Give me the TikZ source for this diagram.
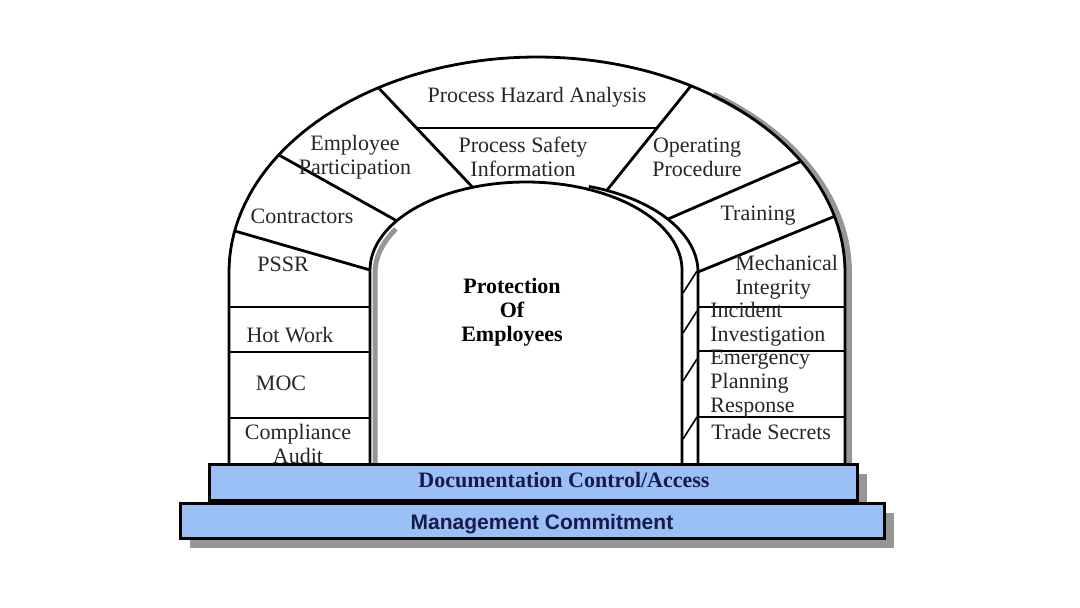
\documentclass[tikz,border=0pt]{standalone}
\usepackage{fontspec}
\setmainfont{Liberation Serif}
\newfontfamily\plainsans{Liberation Sans}
\usepackage{xcolor}

\definecolor{stepblue}{RGB}{155,192,245}
\definecolor{shadowgray}{RGB}{150,150,150}
\definecolor{navy}{RGB}{25,25,75}

\tikzset{
  brick/.style={line width=1.4pt, black, line join=round},
  lbl/.style={font=\fontsize{11}{12}\selectfont, text=black!85, inner sep=0pt, align=center},
  boldlbl/.style={font=\fontsize{11}{12}\selectfont\bfseries, text=black, inner sep=0pt, align=center},
  stepbox/.style={draw=black, line width=1.5pt, fill=stepblue, inner sep=0pt},
  stepshadow/.style={fill=shadowgray, draw=none, inner sep=0pt},
}

\begin{document}
\begin{tikzpicture}[x=0.5pt,y=-0.5pt]
    \useasboundingbox (0,0) rectangle (1080,608);

    % Grey shadows of the arch
    \draw[shadowgray, line width=3pt] plot[domain=56:0, samples=40] ({541+308*cos(\x)},{273-215*sin(\x)}) -- (849,466);
    \draw[shadowgray, line width=2.5pt] plot[domain=150:180, samples=15] ({531+156*cos(\x)},{273-88*sin(\x)}) -- (375,466);

    % Outer and inner arch
    \draw[brick] (229,465) -- plot[domain=180:0, samples=90] ({537+308*cos(\x)},{272-215*sin(\x)}) -- (845,465);
    \draw[brick] (370,465) -- plot[domain=180:0, samples=70] ({526+156*cos(\x)},{270-88*sin(\x)}) -- (682,465);
    \draw[brick] plot[domain=72:0, samples=30] ({540+158*cos(\x)},{272-90*sin(\x)}) -- (698,465);

    % Dividers of the arch
    \foreach \t/\s in {121/110, 147/146, 169/180}
        \draw[brick] ({537+308*cos(\t)},{272-215*sin(\t)}) -- ({526+156*cos(\s)},{270-88*sin(\s)});
    \foreach \t/\s in {60/65, 31/36, 15/0}
        \draw[brick] ({537+308*cos(\t)},{272-215*sin(\t)}) -- ({540+158*cos(\s)},{272-90*sin(\s)});
    \draw[brick] (416,128) -- (657,128);

    % Pillars
    \foreach \y in {307,352,418}
        \draw[brick] (229,\y) -- (370,\y);
    \foreach \y in {307,351,417}
        \draw[brick] (698,\y) -- (845,\y);
    \foreach \y in {282,322,370,428}
        \draw[line width=0.8pt] (683,{\y+11}) -- (697,{\y-11});

    % Labels
    \node[lbl] (pha) at (537,97) {Process Hazard Analysis};
    \node[lbl] (emp) at (355,157) {Employee\\Participation};
    \node[lbl] (psi) at (523,157) {Process Safety\\Information};
    \node[lbl] (op) at (697,157) {Operating\\Procedure};
    \node[lbl] (con) at (302,216) {Contractors};
    \node[lbl] (train) at (758,216) {Training};
    \node[lbl] (pssr) at (283,264) {PSSR};
    \node[lbl, anchor=west, align=left] (mi) at (735,277) {Mechanical\\Integrity};
    \node[lbl] (hot) at (290,335) {Hot Work};
    \node[lbl] (moc) at (281,383) {MOC};
    \node[lbl] (audit) at (298,444) {Compliance\\Audit};
    \node[lbl, anchor=west, align=left] (inc) at (710,324) {Incident\\Investigation};
    \node[lbl, anchor=west, align=left] (emg) at (710,384) {Emergency\\Planning\\Response};
    \node[lbl, anchor=west] (trade) at (711,432) {Trade Secrets};
    \node[boldlbl] (prot) at (512,312) {Protection\\Of\\Employees};

    % Steps
    \node[stepshadow, minimum width=324pt, minimum height=18pt] (docshadow) at (543,492) {};
    \node[stepbox, minimum width=324pt, minimum height=18pt] (doc) at (533,482) {};
    \node[font=\fontsize{11}{12}\selectfont\bfseries, text=navy] (doctxt) at (564,480) {Documentation Control/Access};
    \node[stepshadow, minimum width=352pt, minimum height=17.5pt] (mgmtshadow) at (542,530) {};
    \node[stepbox, minimum width=352pt, minimum height=17.5pt] (mgmt) at (532,521) {};
    \node[font=\plainsans\fontsize{10.5}{12}\selectfont\bfseries, text=navy] (mgmttxt) at (542,524) {Management Commitment};
\end{tikzpicture}
\end{document}
